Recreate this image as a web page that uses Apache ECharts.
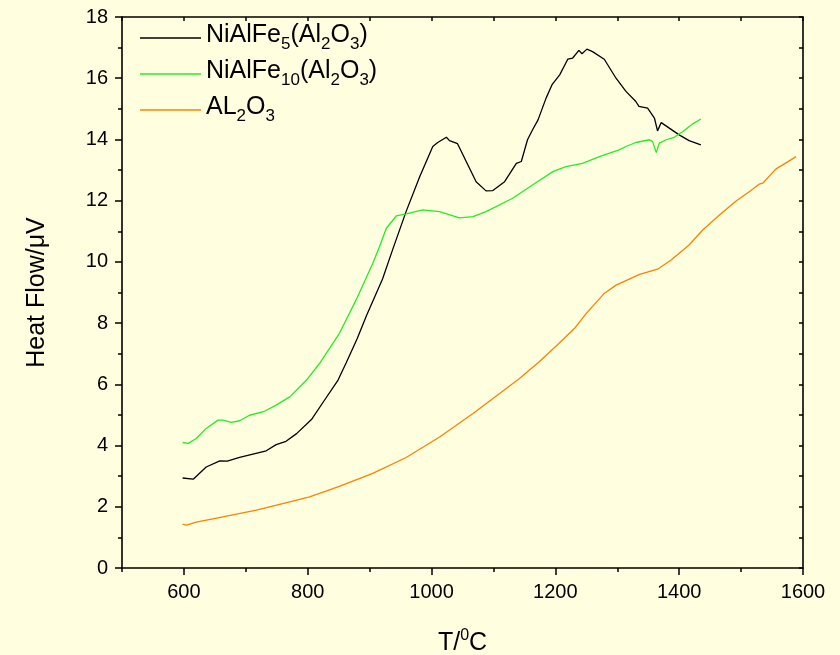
<!DOCTYPE html>
<html>
<head>
<meta charset="utf-8">
<script src="https://cdn.jsdelivr.net/npm/echarts@6/dist/echarts.min.js"></script>
<style>
html,body{margin:0;padding:0;background:#FFFFE0;}
#chart{width:840px;height:655px;}
</style>
</head>
<body>
<div id="chart"></div>
<script>
// ---- data ----
var seriesNames = ['NiAlFe5(Al2O3)', 'NiAlFe10(Al2O3)', 'AL2O3'];

var fe5X = [598,615,636,658,670,690,733,749,765,782,806,827,849,862,880,895,921,938,959,981,1002,1010,1024,1029,1042,1056,1072,1088,1099,1118,1137,1145,1155,1163,1172,1185,1195,1207,1220,1228,1238,1243,1251,1260,1279,1298,1314,1330,1335,1349,1360,1365,1371,1384,1400,1416,1435];
var fe5Y = [2.94,2.90,3.30,3.50,3.49,3.61,3.83,4.03,4.14,4.39,4.85,5.48,6.14,6.70,7.50,8.25,9.45,10.45,11.65,12.79,13.77,13.90,14.07,13.96,13.86,13.28,12.62,12.32,12.33,12.62,13.22,13.28,13.99,14.31,14.64,15.35,15.8,16.11,16.62,16.66,16.91,16.80,16.95,16.87,16.62,16.00,15.57,15.24,15.08,15.02,14.70,14.28,14.55,14.37,14.15,13.96,13.82];

var fe10X = [598,607,620,636,655,663,677,690,706,730,749,771,798,819,851,878,905,916,927,943,959,986,1013,1045,1067,1088,1131,1163,1196,1217,1244,1271,1303,1314,1330,1352,1357,1363,1368,1379,1392,1406,1422,1435];
var fe10Y = [4.10,4.07,4.23,4.56,4.83,4.83,4.76,4.81,4.99,5.12,5.32,5.59,6.14,6.68,7.66,8.75,9.95,10.5,11.10,11.50,11.57,11.70,11.64,11.44,11.48,11.64,12.08,12.51,12.95,13.11,13.22,13.44,13.66,13.77,13.90,13.99,13.93,13.57,13.88,13.99,14.07,14.26,14.51,14.67];

var alX = [598,604,620,663,717,771,803,851,905,959,1013,1067,1110,1142,1174,1206,1231,1250,1279,1298,1322,1336,1365,1387,1416,1438,1465,1492,1516,1529,1535,1556,1589];
var alY = [1.43,1.40,1.50,1.67,1.89,2.16,2.32,2.67,3.09,3.61,4.28,5.05,5.70,6.19,6.74,7.34,7.83,8.32,8.97,9.24,9.46,9.59,9.76,10.06,10.55,11.04,11.53,11.99,12.33,12.54,12.57,13.03,13.44];

var xMajorTicks = [600,800,1000,1200,1400,1600];
var xMinorTicks = [500,700,900,1100,1300,1500];

function pairs(xs, ys){ return xs.map(function(x,i){ return [x, ys[i]]; }); }

var FONT = 'Liberation Sans, Arial, sans-serif';
var legendRich = {
  n: {fontSize: 25, fontFamily: FONT, color: '#000', lineHeight: 30, verticalAlign: 'top'},
  s: {fontSize: 17, fontFamily: FONT, color: '#000', lineHeight: 4, verticalAlign: 'bottom'}
};
var legendText = {
  'NiAlFe5(Al2O3)': '{n|NiAlFe}{s|5}{n|(Al}{s|2}{n|O}{s|3}{n|)}',
  'NiAlFe10(Al2O3)': '{n|NiAlFe}{s|10}{n|(Al}{s|2}{n|O}{s|3}{n|)}',
  'AL2O3': '{n|AL}{s|2}{n|O}{s|3}'
};
var lineColors = ['#000000', '#22ee22', '#ff8000'];

var chart = echarts.init(document.getElementById('chart'), null, {renderer: 'canvas'});
var axisLineStyle = {color: '#000', width: 1.6};
function plain(v){ return String(v); }
chart.setOption({
  backgroundColor: '#FFFFE0',
  animation: false,
  grid: {left: 122, right: 37, top: 17, bottom: 87, containLabel: false, outerBoundsMode: 'none'},
  legend: {
    orient: 'vertical', left: 135, top: 18,
    icon: 'rect',
    itemWidth: 61, itemHeight: 1.5, itemGap: 6,
    data: seriesNames,
    formatter: function(name){ return legendText[name]; },
    textStyle: {rich: legendRich, fontFamily: FONT}
  },
  xAxis: [
    {
      type: 'value', min: 500, max: 1600, position: 'bottom',
      axisLine: {show: true, lineStyle: axisLineStyle},
      axisTick: {show: true, inside: false, length: 7, lineStyle: {color: '#000', width: 1.5}, customValues: xMajorTicks},
      axisLabel: {show: true, fontSize: 20, fontFamily: FONT, color: '#000', margin: 14, customValues: xMajorTicks, formatter: plain},
      splitLine: {show: false},
      name: '{n|T/}{sup|0}{n|C}', nameLocation: 'middle', nameGap: 60,
      nameTextStyle: {rich: {
        n: {fontSize: 25, fontFamily: FONT, color: '#000', lineHeight: 30},
        sup: {fontSize: 16, fontFamily: FONT, color: '#000', lineHeight: 14, verticalAlign: 'top'}
      }}
    },
    {
      type: 'value', min: 500, max: 1600, position: 'bottom',
      axisLine: {show: false},
      axisTick: {show: true, inside: false, length: 4, lineStyle: {color: '#000', width: 1.5}, customValues: xMinorTicks},
      axisLabel: {show: false},
      splitLine: {show: false}
    },
    {
      type: 'value', min: 500, max: 1600, interval: 100, position: 'top',
      axisLine: {show: true, lineStyle: axisLineStyle},
      axisTick: {show: true, inside: true, length: 4, lineStyle: {color: '#000', width: 1.5}},
      axisLabel: {show: false},
      splitLine: {show: false}
    }
  ],
  yAxis: [
    {
      type: 'value', min: 0, max: 18, interval: 2, position: 'left',
      axisLine: {show: true, lineStyle: axisLineStyle},
      axisTick: {show: true, inside: false, length: 7, lineStyle: {color: '#000', width: 1.5}},
      minorTick: {show: true, splitNumber: 2, length: 4, lineStyle: {color: '#000', width: 1.5}},
      axisLabel: {fontSize: 20, fontFamily: FONT, color: '#000', margin: 14, formatter: plain},
      splitLine: {show: false},
      name: 'Heat Flow/\u03bcV', nameLocation: 'middle', nameGap: 72, nameRotate: 90,
      nameTextStyle: {fontSize: 25, fontFamily: FONT, color: '#000'}
    },
    {
      type: 'value', min: 0, max: 18, interval: 1, position: 'right',
      axisLine: {show: true, lineStyle: axisLineStyle},
      axisTick: {show: true, inside: true, length: 4, lineStyle: {color: '#000', width: 1.5}},
      axisLabel: {show: false},
      splitLine: {show: false}
    }
  ],
  series: [
    {name: seriesNames[0], type: 'line', data: pairs(fe5X, fe5Y), showSymbol: false, symbol: 'none', color: lineColors[0], lineStyle: {width: 1.3, color: lineColors[0]}},
    {name: seriesNames[1], type: 'line', data: pairs(fe10X, fe10Y), showSymbol: false, symbol: 'none', color: lineColors[1], lineStyle: {width: 1.3, color: lineColors[1]}},
    {name: seriesNames[2], type: 'line', data: pairs(alX, alY), showSymbol: false, symbol: 'none', color: lineColors[2], lineStyle: {width: 1.3, color: lineColors[2]}}
  ]
});
</script>
</body>
</html>
